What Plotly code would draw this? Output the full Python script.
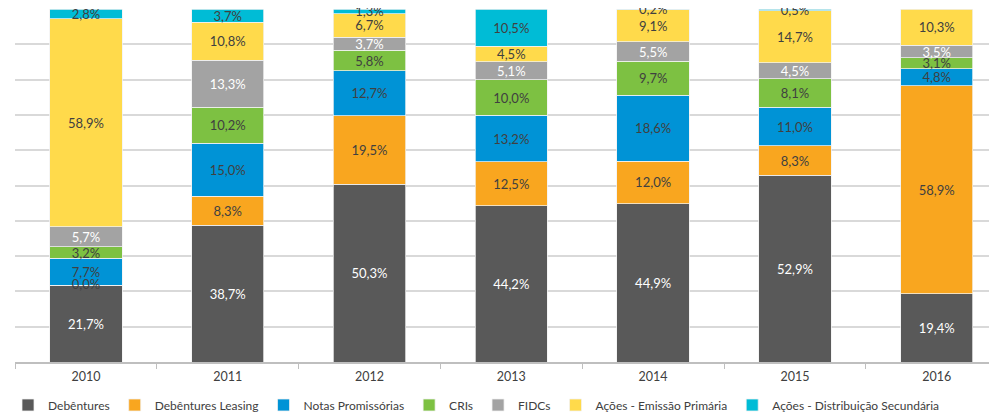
import plotly.graph_objects as go

years = ["2010", "2011", "2012", "2013", "2014", "2015", "2016"]

debentures = [21.7, 38.7, 50.3, 44.2, 44.9, 52.9, 19.4]
debentures_leasing = [0.0, 8.3, 19.5, 12.5, 12.0, 8.3, 58.9]
notas_promissorias = [7.7, 15.0, 12.7, 13.2, 18.6, 11.0, 4.8]
cris = [3.2, 10.2, 5.8, 10.0, 9.7, 8.1, 3.1]
fidcs = [5.7, 13.3, 3.7, 5.1, 5.5, 4.5, 3.5]
acoes_primaria = [58.9, 10.8, 6.7, 4.5, 9.1, 14.7, 10.3]
acoes_secundaria = [2.8, 3.7, 1.3, 10.5, 0.2, 0.5, None]

series = [
    ("Debêntures", debentures, "#595959", "white"),
    ("Debêntures Leasing", debentures_leasing, "#F9A61F", "#404040"),
    ("Notas Promissórias", notas_promissorias, "#0093D6", "#404040"),
    ("CRIs", cris, "#7DC142", "#404040"),
    ("FIDCs", fidcs, "#A3A3A3", "white"),
    ("Ações - Emissão Primária", acoes_primaria, "#FFDA4B", "#404040"),
    ("Ações - Distribuição Secundária", acoes_secundaria, "#00BCD6", "#404040"),
]

def fmt(v):
    if v is None:
        return ""
    return f"{v:.1f}%".replace(".", ",")

FONT = "Lato, 'Open Sans', sans-serif"

fig = go.Figure()
for name, vals, color, tcolor in series:
    fig.add_trace(go.Bar(
        name=name, x=years, y=vals,
        marker=dict(color=color, line=dict(color="#F2F2F2", width=0.75)),
        text=[fmt(v) for v in vals],
        textposition="inside", insidetextanchor="middle",
        textangle=0,
        textfont=dict(color=tcolor, size=13, family=FONT),
        width=0.51,
        hoverinfo="skip",
        cliponaxis=False,
    ))

# zero-height segments cannot hold inside text: label them at their stack position
zx = [years[i] for i, v in enumerate(debentures_leasing) if v == 0]
zy = [debentures[i] for i, v in enumerate(debentures_leasing) if v == 0]
zt = [fmt(v) for v in debentures_leasing if v == 0]
fig.add_trace(go.Scatter(
    x=zx, y=zy, text=zt, mode="text", showlegend=False, hoverinfo="skip",
    textfont=dict(color="#404040", size=13, family=FONT), textposition="middle center",
    cliponaxis=False,
))

# page body has an 8px default margin: figure sized to fit the 997x415 window
fig.update_layout(
    barmode="stack",
    width=989, height=407,
    margin=dict(l=7, r=0, t=1, b=53),
    plot_bgcolor="white", paper_bgcolor="white",
    uniformtext=dict(minsize=13, mode="show"),
    font=dict(family=FONT, color="#404040", size=12),
    xaxis=dict(type="category", range=[-0.5, 6.425], showgrid=False,
               showline=True, linecolor="#BFBFBF", linewidth=1.5,
               ticks="outside", tickson="boundaries", ticklen=5, tickcolor="#BFBFBF",
               ticklabelstandoff=2,
               tickfont=dict(size=12.5, color="#404040")),
    yaxis=dict(range=[0, 100], dtick=10, showgrid=True, gridcolor="#D9D9D9", gridwidth=1.5,
               showticklabels=False, zeroline=False, fixedrange=True),
    legend=dict(orientation="h", xref="container", yref="container", x=-0.006, y=0.0246,
                xanchor="left", yanchor="middle", font=dict(size=12, color="#404040"),
                traceorder="normal", itemwidth=30),
    showlegend=True,
)

fig.write_html("out.html")
